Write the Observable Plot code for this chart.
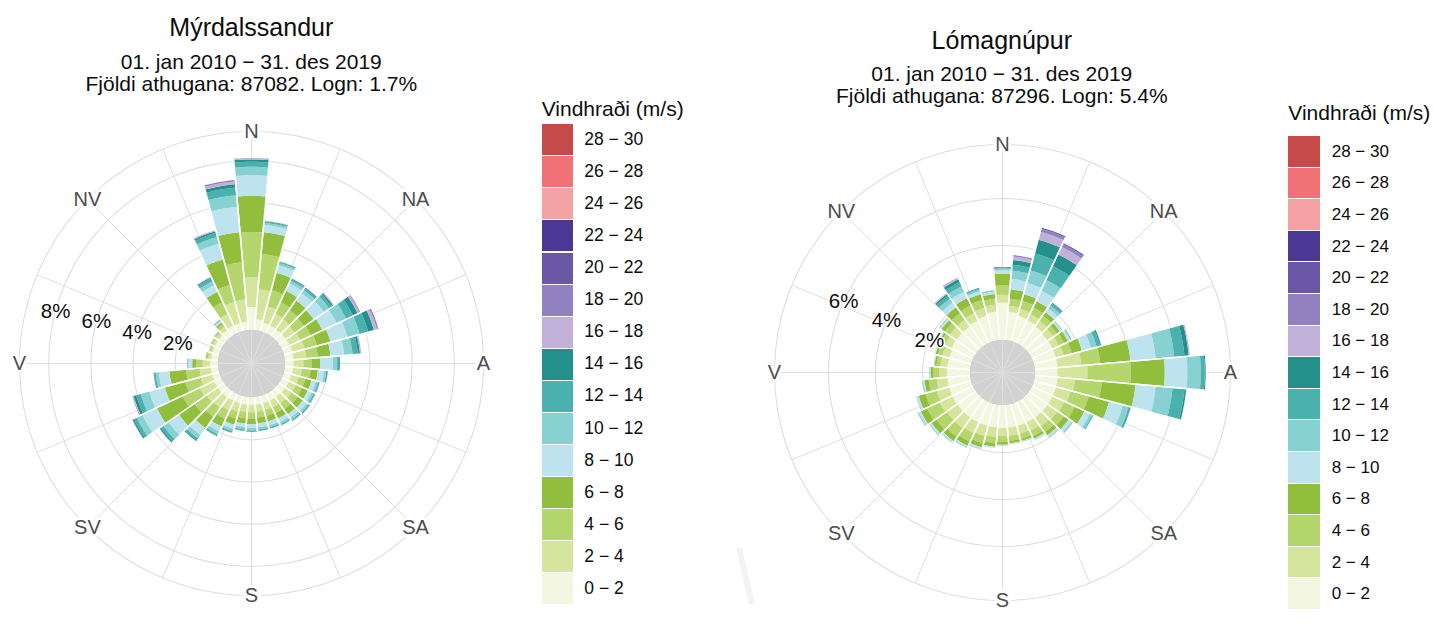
<!DOCTYPE html>
<html><head><meta charset="utf-8">
<script src="https://cdn.jsdelivr.net/npm/d3@7"></script>
<script src="https://cdn.jsdelivr.net/npm/@observablehq/plot@0.6"></script>
<style>
body{margin:0;background:#fff;font-family:"Liberation Sans",Arial,Helvetica,sans-serif;}
#root{position:relative;width:1434px;height:630px;overflow:hidden;background:#fff;}
.t{position:absolute;white-space:nowrap;transform:translateX(-50%);color:#0d0d0d;line-height:1;}
.lg{position:absolute;white-space:nowrap;color:#0d0d0d;line-height:1;}
.sw{position:absolute;}
.plotbox{position:absolute;}
#stripe{position:absolute;left:0;top:0;}
</style></head><body><div id="root"></div>
<script>
// ---------- data ----------
const speedBins = ["0 − 2","2 − 4","4 − 6","6 − 8","8 − 10","10 − 12","12 − 14","14 − 16","16 − 18","18 − 20","20 − 22","22 − 24","24 − 26","26 − 28","28 − 30"];
const binColors = ["#f3f7e2","#d5e59d","#b5d56d","#92be3e","#bde4ee","#88d1d2","#4ab1ae","#23908c","#c1b1d9","#9182bf","#6a58a6","#4a3894","#f4a1a3","#f07276","#c64a4a"];
const directions = [0,10,20,30,40,50,60,70,80,90,100,110,120,130,140,150,160,170,180,190,200,210,220,230,240,250,260,270,280,290,300,310,320,330,340,350];
const compassLabels = ["N","NA","A","SA","S","SV","V","NV"];
const compassAngles = [0,45,90,135,180,225,270,315];

// cumulative frequency (%) per direction, by upper edge of each speed bin
const myrdalCum = [
  [1.07,2.49,4.62,6.33,7.31,7.71,7.95,8.06,8.11,8.13],
  [0.5,1.92,3.6,4.64,4.98,5.08,5.13,5.16,5.18],
  [0.4,1.2,2.0,2.85,3.22,3.33,3.38,3.40,3.41],
  [0.38,1.0,1.6,2.2,2.58,2.73,2.8,2.84,2.85],
  [0.38,0.95,1.5,2.05,2.48,2.66,2.75,2.8,2.82],
  [0.38,0.9,1.45,2.0,2.6,2.9,3.05,3.13,3.17,3.18],
  [0.38,0.95,1.5,2.1,2.85,3.35,3.7,3.95,4.05,4.09],
  [0.4,1.0,1.6,2.27,3.11,3.7,4.12,4.4,4.55,4.62],
  [0.38,1.0,1.55,2.15,2.8,3.2,3.45,3.55,3.6,3.61],
  [0.38,0.85,1.25,1.64,2.25,2.45,2.54,2.58,2.59],
  [0.36,0.8,1.2,1.55,1.85,1.95,2.0,2.02,2.03],
  [0.35,0.72,1.05,1.35,1.55,1.66,1.72,1.74,1.75],
  [0.35,0.72,1.05,1.35,1.55,1.66,1.72,1.74,1.75],
  [0.35,0.74,1.08,1.38,1.6,1.71,1.77,1.79,1.8],
  [0.35,0.72,1.05,1.35,1.55,1.66,1.72,1.74,1.75],
  [0.35,0.7,1.0,1.28,1.47,1.57,1.62,1.64,1.65],
  [0.35,0.68,0.97,1.24,1.43,1.53,1.58,1.6],
  [0.35,0.68,0.97,1.24,1.43,1.53,1.58,1.6],
  [0.35,0.7,1.0,1.27,1.45,1.56,1.61,1.63],
  [0.35,0.7,1.0,1.25,1.42,1.53,1.58,1.6],
  [0.35,0.75,1.1,1.4,1.6,1.72,1.78,1.8],
  [0.35,0.85,1.3,1.7,1.95,2.1,2.17,2.2],
  [0.35,0.95,1.5,2.15,2.55,2.75,2.85,2.9],
  [0.35,1.0,1.7,2.6,3.2,3.5,3.65,3.72,3.74],
  [0.35,1.1,2.0,3.35,4.1,4.4,4.55,4.62,4.65],
  [0.33,0.89,1.65,2.65,3.41,3.83,4.05,4.18,4.22,4.24],
  [0.33,0.86,1.5,2.3,2.8,2.95,3.02,3.05,3.06],
  [0.35,0.7,1.0,1.2,1.38,1.43,1.45],
  [0.3,0.45,0.53,0.57,0.6],
  [0.3,0.4,0.45,0.48,0.5],
  [0.3,0.42,0.48,0.52,0.55],
  [0.3,0.45,0.52,0.56,0.6],
  [0.35,0.55,0.7,0.8,0.88,0.92,0.95],
  [0.38,1.0,1.6,2.15,2.5,2.7,2.85,2.9,2.93],
  [0.38,1.41,2.25,3.5,4.27,4.6,4.8,4.88,4.93],
  [0.39,1.44,3.2,4.64,5.85,6.40,6.76,6.92,7.05,7.12]
];
const lomagnupurCum = [
  [1.57,1.9,2.3,2.8,2.95,3.02,3.06,3.09],
  [1.2,1.45,1.75,2.15,2.6,2.95,3.2,3.4,3.55,3.61],
  [1.1,1.4,1.75,2.05,2.55,3.1,3.85,4.45,4.8,4.93,4.98],
  [1.05,1.35,1.65,1.95,2.45,2.95,3.6,4.15,4.5,4.63,4.68],
  [1.0,1.3,1.55,1.75,1.95,2.1,2.2,2.24,2.26],
  [0.95,1.25,1.45,1.6,1.68,1.71,1.72],
  [0.95,1.25,1.5,1.68,1.78,1.83,1.85],
  [0.95,1.3,1.65,2.1,2.5,2.75,2.9,2.95],
  [0.95,1.97,2.77,4.06,5.14,5.93,6.37,6.55,6.6],
  [0.93,2.21,4.05,5.5,6.46,7.03,7.2,7.24],
  [0.95,1.69,2.84,4.28,5.14,5.86,6.37,6.44],
  [0.95,1.6,2.4,3.3,3.9,4.15,4.25],
  [0.95,1.5,2.0,2.45,2.7,2.82,2.87],
  [0.95,1.45,1.8,2.05,2.2,2.25,2.27],
  [0.95,1.4,1.7,1.88,1.96,2.0],
  [0.95,1.35,1.6,1.72,1.77,1.79],
  [0.95,1.3,1.52,1.62,1.66,1.67],
  [0.95,1.3,1.52,1.62,1.65,1.66],
  [0.95,1.3,1.55,1.67,1.71,1.72],
  [0.95,1.35,1.62,1.77,1.82,1.83],
  [0.95,1.4,1.72,1.9,1.96,1.98],
  [0.95,1.45,1.85,2.05,2.12,2.15],
  [0.95,1.5,1.95,2.18,2.25,2.28],
  [0.95,1.5,2.05,2.3,2.38,2.42],
  [0.95,1.55,2.15,2.45,2.55,2.6],
  [0.95,1.5,2.0,2.3,2.38,2.41],
  [0.95,1.4,1.75,1.93,2.0,2.04],
  [0.95,1.3,1.55,1.66,1.7,1.72],
  [0.95,1.25,1.42,1.5,1.54,1.55],
  [0.95,1.25,1.45,1.55,1.59,1.6],
  [1.0,1.3,1.5,1.6,1.64,1.65],
  [1.0,1.35,1.6,1.78,1.86,1.9],
  [1.0,1.35,1.7,2.0,2.25,2.45,2.6,2.68,2.73],
  [1.05,1.4,1.75,2.1,2.4,2.65,2.85,2.98,3.04,3.06],
  [1.1,1.45,1.8,2.05,2.18,2.26,2.3,2.33],
  [1.2,1.5,1.75,1.95,2.05,2.09,2.11]
];
const myrdalTicks = [2,4,6,8];
const lomagnupurTicks = [2,4,6];

const stations = [
  {title:"Mýrdalssandur", period:"01. jan 2010 − 31. des 2019", info:"Fjöldi athugana: 87082. Logn: 1.7%", cum:myrdalCum, ticks:myrdalTicks,
   cx:251.3, cy:363.3, k:21.1, offsetPx:34, outerPx:232, tickAngle:285,
   titleY:[15.2,50.6,73.3], legend:{x:541.7, titleTop:97.6, top:124.3, pitch:32.05, w:31.6, h:31, labelX:584.3, fs:17.5}},
  {title:"Lómagnúpur", period:"01. jan 2010 − 31. des 2019", info:"Fjöldi athugana: 87296. Logn: 5.4%", cum:lomagnupurCum, ticks:lomagnupurTicks,
   cx:1001.8, cy:371.5, k:23.5, offsetPx:33, outerPx:228, tickAngle:294,
   titleY:[28.2,62.6,85.3], legend:{x:1288.3, titleTop:101.6, top:136, pitch:31.6, w:31.7, h:30.6, labelX:1331.7, fs:17}}
];

// ---------- drawing ----------
const root = document.getElementById("root");
const rad = a => a * Math.PI / 180;
const pol = (r, a) => ({x: r * Math.sin(rad(a)), y: r * Math.cos(rad(a))});
const M = 24;
const GRID = "#dedede";

function rose(st) {
  const off = st.offsetPx / st.k, R = st.outerPx / st.k;
  const poly = [], edges = [];
  directions.forEach((d, i) => {
    const c = st.cum[i];
    let prev = 0;
    c.forEach((v, j) => {
      const id = i + "-" + j;
      const pts = [];
      for (let s = 0; s <= 8; s++) pts.push(pol(off + v, d - 5 + 10 * s / 8));
      for (let s = 8; s >= 0; s--) pts.push(pol(off + prev, d - 5 + 10 * s / 8));
      pts.forEach(p => poly.push({x: p.x, y: p.y, id, bin: speedBins[j]}));
      prev = v;
    });
    const tot = c[c.length - 1];
    for (const a of [d - 5, d + 5]) {
      const p0 = pol(off, a), p1 = pol(off + tot, a);
      edges.push({x1: p0.x, y1: p0.y, x2: p1.x, y2: p1.y});
    }
  });
  const circ = (r, id) => d3.range(0, 361, 3).map(a => ({...pol(r, a), id}));
  const disk = circ(off, "disk");
  const rings = [...st.ticks.map(t => circ(off + t, "r" + t)), circ(R, "outer")].flat();
  const spokes = d3.range(0, 360, 22.5).map(a => ({a, ...pol(R, a)}));
  const compass = compassLabels.map((label, i) => ({label, ...pol(R, compassAngles[i])}));
  const tickLabels = st.ticks.map(t => ({label: t + "%", ...pol(off + t, st.tickAngle)}));

  const W = 2 * st.outerPx + 2 * M;
  const svg = Plot.plot({
    width: W, height: W, margin: M,
    x: {domain: [-R, R], axis: null},
    y: {domain: [-R, R], axis: null},
    color: {type: "ordinal", domain: speedBins, range: binColors},
    style: {background: "transparent", overflow: "visible", fontFamily: '"Liberation Sans", Arial, sans-serif'},
    marks: [
      Plot.line(disk, {x: "x", y: "y", z: "id", fill: "#d2d2d2", stroke: "none"}),
      Plot.link(spokes, {x1: 0, y1: 0, x2: "x", y2: "y", stroke: GRID, strokeWidth: 1}),
      Plot.line(rings, {x: "x", y: "y", z: "id", stroke: GRID, strokeWidth: 1.1}),
      Plot.line(poly, {x: "x", y: "y", z: "id", fill: "bin", stroke: "none"}),
      Plot.link(edges, {x1: "x1", y1: "y1", x2: "x2", y2: "y2", stroke: "white", strokeWidth: 1.4}),
      Plot.text(compass, {x: "x", y: "y", text: "label", fontSize: 20, fill: "#4d4d4d", stroke: "white", strokeWidth: 6, paintOrder: "stroke", strokeLinejoin: "round"}),
      Plot.text(tickLabels, {x: "x", y: "y", text: "label", fontSize: 20.5, fill: "#0d0d0d", stroke: "white", strokeWidth: 3, paintOrder: "stroke", strokeLinejoin: "round"})
    ]
  });
  svg.classList.add("plotbox");
  svg.style.left = (st.cx - W / 2) + "px";
  svg.style.top = (st.cy - W / 2) + "px";
  svg.style.maxWidth = "none";
  root.appendChild(svg);

  // titles
  const lines = [[st.title, 25], [st.period, 21], [st.info, 21]];
  lines.forEach(([txt, fs], i) => {
    const el = document.createElement("div");
    el.className = "t";
    el.textContent = txt;
    el.style.fontSize = fs + "px";
    el.style.left = st.cx + "px";
    el.style.top = st.titleY[i] + "px";
    root.appendChild(el);
  });

  // legend
  const L = st.legend;
  const lt = document.createElement("div");
  lt.className = "lg"; lt.textContent = "Vindhraði (m/s)";
  lt.style.fontSize = "21px"; lt.style.left = L.x + "px"; lt.style.top = L.titleTop + "px";
  root.appendChild(lt);
  const order = speedBins.map((b, i) => i).reverse();
  order.forEach((bi, row) => {
    const top = L.top + row * L.pitch;
    const sw = document.createElement("div");
    sw.className = "sw";
    sw.style.left = L.x + "px"; sw.style.top = top + "px";
    sw.style.width = L.w + "px"; sw.style.height = L.h + "px";
    sw.style.background = binColors[bi];
    root.appendChild(sw);
    const lb = document.createElement("div");
    lb.className = "lg"; lb.textContent = speedBins[bi];
    lb.style.fontSize = L.fs + "px";
    lb.style.left = L.labelX + "px";
    lb.style.top = (top + L.h / 2 - L.fs * 0.5) + "px";
    root.appendChild(lb);
  });
}
stations.forEach(rose);

// faint diagonal stripe present in the source image
const ns = "http://www.w3.org/2000/svg";
const s = document.createElementNS(ns, "svg");
s.setAttribute("id", "stripe"); s.setAttribute("width", 1434); s.setAttribute("height", 630);
const ln = document.createElementNS(ns, "line");
ln.setAttribute("x1", 739); ln.setAttribute("y1", 548); ln.setAttribute("x2", 752); ln.setAttribute("y2", 604);
ln.setAttribute("stroke", "#f3f3f3"); ln.setAttribute("stroke-width", 6);
s.appendChild(ln);
root.insertBefore(s, root.firstChild);
</script></body></html>
